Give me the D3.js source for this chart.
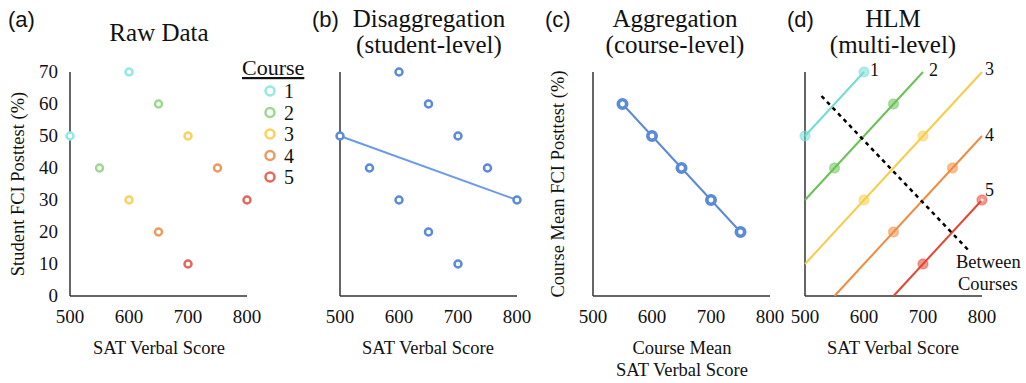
<!DOCTYPE html>
<html>
<head>
<meta charset="utf-8">
<script src="https://cdn.jsdelivr.net/npm/d3@7"></script>
<style>
  body { margin: 0; background: #fff; }
  svg { display: block; }
  text { font-family: "Liberation Serif", "Times New Roman", serif; fill: #111; }
  .panel-tag { font-family: "Liberation Sans", Arial, sans-serif; font-size: 22px; }
</style>
</head>
<body>
<svg id="chart" width="1026" height="383"></svg>
<script>
// Data
var courses = [1, 2, 3, 4, 5];
var rawX = [[500, 600], [550, 650], [600, 700], [650, 750], [700, 800]];
var rawY = [[50, 70], [40, 60], [30, 50], [20, 40], [10, 30]];
var meanX = [550, 600, 650, 700, 750];
var meanY = [60, 50, 40, 30, 20];
var olsFit = [[500, 50], [800, 30]];
var hlmLines = [
    [[500, 50], [600, 70]],
    [[500, 30], [700, 70]],
    [[500, 10], [800, 70]],
    [[550, 0], [800, 50]],
    [[650, 0], [800, 30]]
];
var betweenLine = [[528, 62.5], [776, 14.5]];
var xTicks = [500, 600, 700, 800];
var yTicks = [0, 10, 20, 30, 40, 50, 60, 70];

var pale = ["#92e9e3", "#9bd98c", "#fbd25c", "#eb9b60", "#e4695c"];
var bold = ["#72dcd4", "#68c254", "#f7cc48", "#f08c3e", "#e4462f"];
var blue = "#5b8ad6";
var axisColor = "#333";
var tickSize = "19px", labelSize = "18.5px", titleSize = "25px";

var svg = d3.select("#chart");

var y = d3.scaleLinear().domain([0, 70]).range([296, 72]);

function makePanel(x0) {
    var x = d3.scaleLinear().domain([500, 800]).range([x0, x0 + 177]);
    var g = svg.append("g");
    // axes lines
    g.append("line").attr("x1", x(500)).attr("x2", x(500)).attr("y1", y(70)).attr("y2", y(0))
        .attr("stroke", axisColor).attr("stroke-width", 1.5);
    g.append("line").attr("x1", x(500)).attr("x2", x(800)).attr("y1", y(0)).attr("y2", y(0))
        .attr("stroke", axisColor).attr("stroke-width", 1.5);
    g.selectAll(".xt").data(xTicks).enter().append("text")
        .attr("x", function (d) { return x(d); })
        .attr("y", 323)
        .attr("text-anchor", "middle")
        .style("font-size", tickSize)
        .text(function (d) { return d; });
    return { g: g, x: x };
}

function ring(g, cx, cy, color, r, w) {
    g.append("circle").attr("cx", cx).attr("cy", cy).attr("r", r)
        .attr("fill", "#fff").attr("stroke", color).attr("stroke-width", w);
}

// ---- (a) Raw Data
var a = makePanel(70);
a.g.selectAll(".yt").data(yTicks).enter().append("text")
    .attr("x", 58).attr("y", function (d) { return y(d) + 6; })
    .attr("text-anchor", "end").style("font-size", tickSize)
    .text(function (d) { return d; });
courses.forEach(function (c, i) {
    rawX[i].forEach(function (vx, j) {
        ring(a.g, a.x(vx), y(rawY[i][j]), pale[i], 3.5, 2.5);
    });
});
svg.append("text").attr("class", "panel-tag").attr("x", 8).attr("y", 27).text("(a)");
svg.append("text").attr("x", 159).attr("y", 41).attr("text-anchor", "middle")
    .style("font-size", titleSize).text("Raw Data");
svg.append("text").attr("x", 159).attr("y", 354).attr("text-anchor", "middle")
    .style("font-size", labelSize).text("SAT Verbal Score");
svg.append("text").attr("transform", "translate(24,184) rotate(-90)").attr("text-anchor", "middle")
    .style("font-size", labelSize).text("Student FCI Posttest (%)");

// legend
svg.append("text").attr("x", 242).attr("y", 75).style("font-size", "22px")
    .style("text-decoration", "underline").text("Course");
courses.forEach(function (c, i) {
    var ly = 91 + i * 21.5;
    ring(svg, 270, ly, pale[i], 4.5, 2.5);
    svg.append("text").attr("x", 284).attr("y", ly + 7).style("font-size", "20px").text(c);
});

// ---- (b) Disaggregation
var b = makePanel(340);
b.g.append("path").datum(olsFit)
    .attr("d", d3.line().x(function (d) { return b.x(d[0]); }).y(function (d) { return y(d[1]); }))
    .attr("stroke", "#6b9be8").attr("stroke-width", 2).attr("fill", "none");
courses.forEach(function (c, i) {
    rawX[i].forEach(function (vx, j) {
        ring(b.g, b.x(vx), y(rawY[i][j]), blue, 3.5, 2.5);
    });
});
svg.append("text").attr("class", "panel-tag").attr("x", 312).attr("y", 27).text("(b)");
svg.append("text").attr("x", 429).attr("y", 27).attr("text-anchor", "middle")
    .style("font-size", titleSize).text("Disaggregation");
svg.append("text").attr("x", 429).attr("y", 53).attr("text-anchor", "middle")
    .style("font-size", titleSize).text("(student-level)");
svg.append("text").attr("x", 428).attr("y", 354).attr("text-anchor", "middle")
    .style("font-size", labelSize).text("SAT Verbal Score");

// ---- (c) Aggregation
var c = makePanel(593);
c.g.append("path").datum(meanX.map(function (d, i) { return [d, meanY[i]]; }))
    .attr("d", d3.line().x(function (d) { return c.x(d[0]); }).y(function (d) { return y(d[1]); }))
    .attr("stroke", blue).attr("stroke-width", 2).attr("fill", "none");
meanX.forEach(function (vx, i) {
    ring(c.g, c.x(vx), y(meanY[i]), blue, 4.2, 3.6);
});
svg.append("text").attr("class", "panel-tag").attr("x", 545).attr("y", 27).text("(c)");
svg.append("text").attr("x", 675).attr("y", 27).attr("text-anchor", "middle")
    .style("font-size", titleSize).text("Aggregation");
svg.append("text").attr("x", 675).attr("y", 53).attr("text-anchor", "middle")
    .style("font-size", titleSize).text("(course-level)");
svg.append("text").attr("x", 682).attr("y", 354).attr("text-anchor", "middle")
    .style("font-size", labelSize).text("Course Mean");
svg.append("text").attr("x", 682).attr("y", 376).attr("text-anchor", "middle")
    .style("font-size", labelSize).text("SAT Verbal Score");
svg.append("text").attr("transform", "translate(564,184) rotate(-90)").attr("text-anchor", "middle")
    .style("font-size", labelSize).text("Course Mean FCI Posttest (%)");

// ---- (d) HLM
var dP = makePanel(805);
var lineD = d3.line().x(function (d) { return dP.x(d[0]); }).y(function (d) { return y(d[1]); });
hlmLines.forEach(function (seg, i) {
    dP.g.append("path").datum(seg).attr("d", lineD)
        .attr("stroke", bold[i]).attr("stroke-width", 2).attr("fill", "none");
});
courses.forEach(function (cc, i) {
    rawX[i].forEach(function (vx, j) {
        dP.g.append("circle").attr("cx", dP.x(vx)).attr("cy", y(rawY[i][j])).attr("r", 5)
            .attr("fill", bold[i]).attr("fill-opacity", 0.55)
            .attr("stroke", bold[i]).attr("stroke-opacity", 0.4).attr("stroke-width", 1.5);
    });
});
// last course-5 point is drawn as a ring
dP.g.append("circle").attr("cx", dP.x(800)).attr("cy", y(30)).attr("r", 1.6).attr("fill", "#fff").attr("fill-opacity", 0.8);
dP.g.append("path").datum(betweenLine).attr("d", lineD)
    .attr("stroke", "#000").attr("stroke-width", 2.5).attr("stroke-dasharray", "4,4").attr("fill", "none");
var lblPos = [[600, 70, 6, 4], [700, 70, 6, 4], [800, 70, 3, 3], [800, 50, 3, 5], [800, 30, 3, -4]];
lblPos.forEach(function (p, i) {
    svg.append("text").attr("x", dP.x(p[0]) + p[2]).attr("y", y(p[1]) + p[3])
        .style("font-size", "18px").text(courses[i]);
});
svg.append("text").attr("x", 956).attr("y", 268).style("font-size", labelSize).text("Between");
svg.append("text").attr("x", 958).attr("y", 290).style("font-size", labelSize).text("Courses");
svg.append("text").attr("class", "panel-tag").attr("x", 787).attr("y", 27).text("(d)");
svg.append("text").attr("x", 893).attr("y", 27).attr("text-anchor", "middle")
    .style("font-size", titleSize).text("HLM");
svg.append("text").attr("x", 893).attr("y", 53).attr("text-anchor", "middle")
    .style("font-size", titleSize).text("(multi-level)");
svg.append("text").attr("x", 893).attr("y", 354).attr("text-anchor", "middle")
    .style("font-size", labelSize).text("SAT Verbal Score");
</script>
</body>
</html>
